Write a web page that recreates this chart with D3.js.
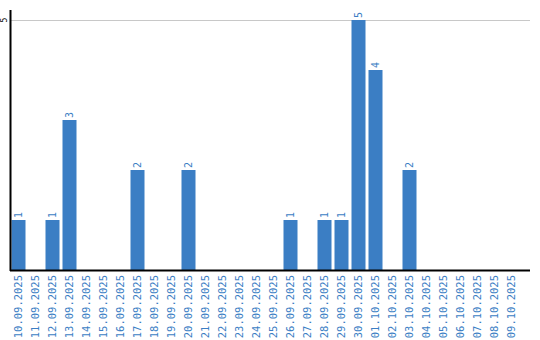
<!DOCTYPE html>
<html lang="en">
<head>
<meta charset="UTF-8">
<script src="https://cdn.jsdelivr.net/npm/d3@7"></script>
<style>
  body { margin: 0; background: #fff; }
</style>
</head>
<body>
<svg width="540" height="340"></svg>
<script>
const dates = ["10.09.2025","11.09.2025","12.09.2025","13.09.2025","14.09.2025","15.09.2025",
  "16.09.2025","17.09.2025","18.09.2025","19.09.2025","20.09.2025","21.09.2025","22.09.2025",
  "23.09.2025","24.09.2025","25.09.2025","26.09.2025","27.09.2025","28.09.2025","29.09.2025",
  "30.09.2025","01.10.2025","02.10.2025","03.10.2025","04.10.2025","05.10.2025","06.10.2025",
  "07.10.2025","08.10.2025","09.10.2025"];
const counts = [1,0,1,3,0,0,0,2,0,0,2,0,0,0,0,0,1,0,1,1,5,4,0,2,0,0,0,0,0,0];
const yTicks = [5];

const margin = {top: 10, right: 10, bottom: 70, left: 10};
const width = 540, height = 340;
const blue = "#3b7ec4";

const svg = d3.select("svg");

const x = d3.scaleBand()
  .domain(dates)
  .range([margin.left, 520])
  .paddingInner(3 / 17)
  .paddingOuter(1.5 / 17);

const y = d3.scaleLinear()
  .domain([0, 5.2])
  .range([height - margin.bottom, margin.top]);

// grid line
svg.append("g")
  .selectAll("line")
  .data(yTicks)
  .join("line")
  .attr("x1", margin.left)
  .attr("x2", width - margin.right)
  .attr("y1", d => y(d) + 0.5)
  .attr("y2", d => y(d) + 0.5)
  .attr("stroke", "#c8c8c8");

// bars
svg.append("g")
  .selectAll("rect")
  .data(dates)
  .join("rect")
  .attr("x", d => x(d))
  .attr("width", x.bandwidth())
  .attr("y", (d, i) => y(counts[i]))
  .attr("height", (d, i) => y(0) - y(counts[i]))
  .attr("fill", blue);

// value labels
svg.append("g")
  .selectAll("text")
  .data(dates.filter((d, i) => counts[i] > 0))
  .join("text")
  .attr("transform", d => `translate(${x(d) + x.bandwidth() / 2 + 3.5},${y(counts[dates.indexOf(d)]) - 2}) rotate(-90)`)
  .attr("font-family", "DejaVu Sans Mono")
  .attr("font-size", 10)
  .attr("fill", blue)
  .text(d => counts[dates.indexOf(d)]);

// x axis
svg.append("line")
  .attr("x1", margin.left)
  .attr("x2", width - margin.right)
  .attr("y1", y(0) + 0.5)
  .attr("y2", y(0) + 0.5)
  .attr("stroke", "#000")
  .attr("stroke-width", 2);

svg.append("g")
  .selectAll("text")
  .data(dates)
  .join("text")
  .attr("transform", d => `translate(${x(d) + x.bandwidth() / 2 + 3.5},${y(0) + 5}) rotate(-90)`)
  .attr("text-anchor", "end")
  .attr("font-family", "DejaVu Sans Mono")
  .attr("font-size", 10.5)
  .attr("fill", blue)
  .text(d => d);

// y axis
svg.append("line")
  .attr("x1", margin.left + 0.5)
  .attr("x2", margin.left + 0.5)
  .attr("y1", margin.top)
  .attr("y2", y(0) + 1)
  .attr("stroke", "#000")
  .attr("stroke-width", 2);

svg.append("g")
  .selectAll("text")
  .data(yTicks)
  .join("text")
  .attr("transform", d => `translate(7,${y(d)}) rotate(-90)`)
  .attr("text-anchor", "middle")
  .attr("font-family", "DejaVu Sans Mono")
  .attr("font-size", 8)
  .attr("fill", "#000")
  .text(d => d);
</script>
</body>
</html>
